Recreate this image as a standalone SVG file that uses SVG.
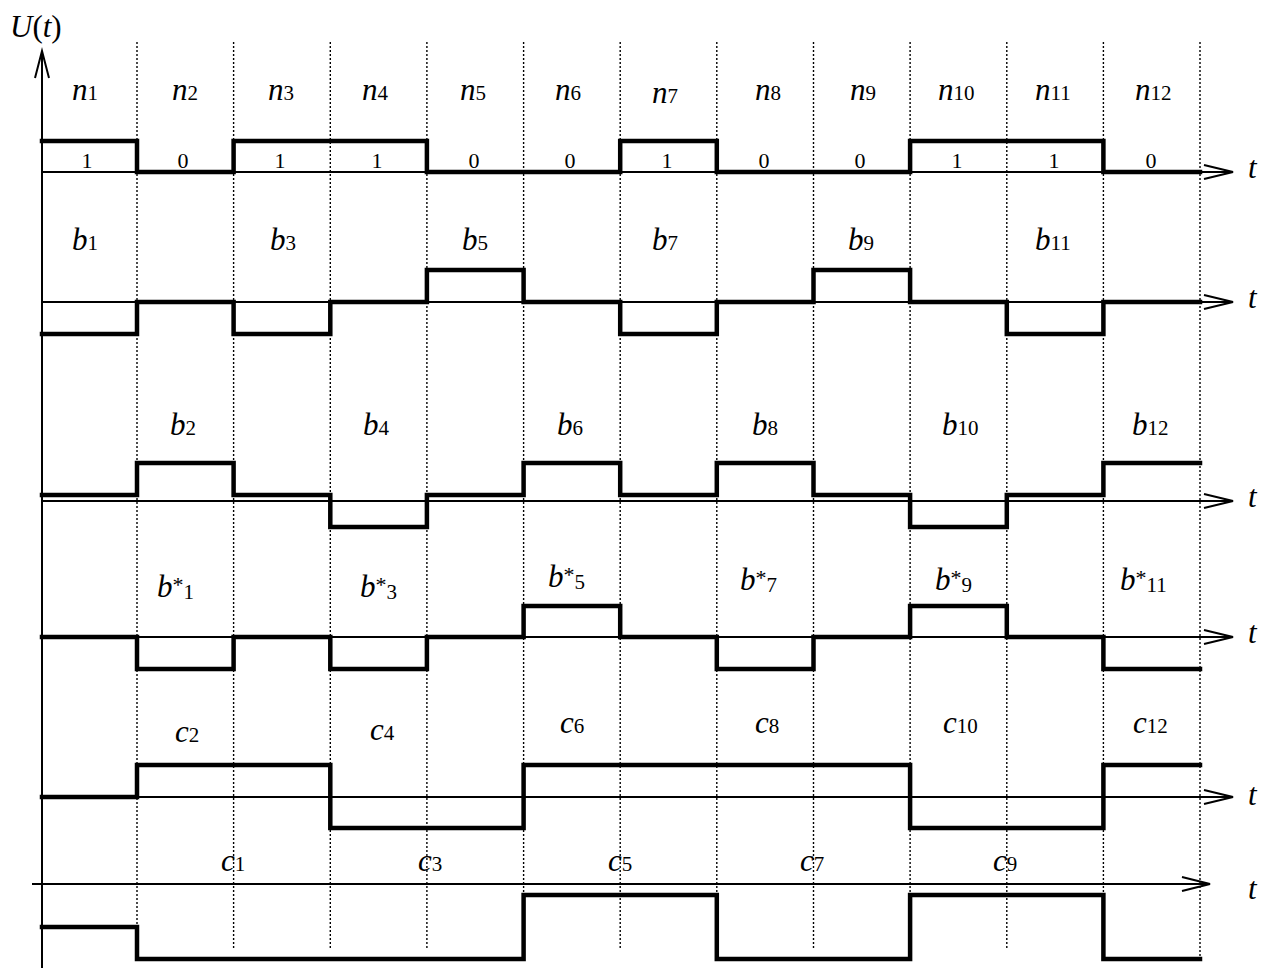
<svg xmlns="http://www.w3.org/2000/svg" width="1261" height="968" viewBox="0 0 1261 968">
<style>
  .grid { stroke:#000; stroke-width:1.4; stroke-dasharray:2 2; fill:none; }
  .axis { stroke:#000; stroke-width:2; fill:none; }
  .sig { stroke:#000; stroke-width:4.5; fill:none; stroke-linejoin:miter; stroke-linecap:square; }
  .lab { font-family:"Liberation Serif","Times New Roman",serif; font-style:italic; font-size:31px; fill:#000; }
  .sub { font-style:normal; font-size:21px; }
  .star { font-style:normal; font-size:22px; }
  .bit { font-family:"Liberation Serif","Times New Roman",serif; font-size:22px; fill:#000; text-anchor:middle; }
  .up { font-style:normal; }
</style>
<rect width="1261" height="968" fill="#fff"/>

<g id="grid">
  <line class="grid" x1="137" y1="42" x2="137" y2="950"/>
  <line class="grid" x1="233.6" y1="42" x2="233.6" y2="950"/>
  <line class="grid" x1="330.3" y1="42" x2="330.3" y2="950"/>
  <line class="grid" x1="426.9" y1="42" x2="426.9" y2="950"/>
  <line class="grid" x1="523.6" y1="42" x2="523.6" y2="950"/>
  <line class="grid" x1="620.2" y1="42" x2="620.2" y2="950"/>
  <line class="grid" x1="716.8" y1="42" x2="716.8" y2="950"/>
  <line class="grid" x1="813.5" y1="42" x2="813.5" y2="950"/>
  <line class="grid" x1="910.1" y1="42" x2="910.1" y2="950"/>
  <line class="grid" x1="1006.8" y1="42" x2="1006.8" y2="950"/>
  <line class="grid" x1="1103.4" y1="42" x2="1103.4" y2="950"/>
  <line class="grid" x1="1200" y1="42" x2="1200" y2="960"/>
</g>

<g id="axes">
  <line class="axis" x1="42" y1="968" x2="42" y2="51"/>
  <polyline class="axis" points="35,78 42,51 49,78"/>
  <line class="axis" x1="42" y1="172" x2="1232" y2="172"/>
  <polyline class="axis" points="1204,165 1233,172 1204,179"/>
  <line class="axis" x1="42" y1="302" x2="1232" y2="302"/>
  <polyline class="axis" points="1204,295 1233,302 1204,309"/>
  <line class="axis" x1="42" y1="501" x2="1232" y2="501"/>
  <polyline class="axis" points="1204,494 1233,501 1204,508"/>
  <line class="axis" x1="42" y1="637" x2="1232" y2="637"/>
  <polyline class="axis" points="1204,630 1233,637 1204,644"/>
  <line class="axis" x1="42" y1="797" x2="1232" y2="797"/>
  <polyline class="axis" points="1204,790 1233,797 1204,804"/>
  <line class="axis" x1="32" y1="884" x2="1209" y2="884"/>
  <polyline class="axis" points="1182,877 1210,884 1182,891"/>
</g>

<g id="signals">
  <path id="sig-n" class="sig" d="M42 141 H137 V172 H233.6 V141 H426.9 V172 H620.2 V141 H716.8 V172 H910.1 V141 H1103.4 V172 H1200"/>
  <path id="sig-b-odd" class="sig" d="M42 334 H137 V302 H233.6 V334 H330.3 V302 H426.9 V270 H523.6 V302 H620.2 V334 H716.8 V302 H813.5 V270 H910.1 V302 H1006.8 V334 H1103.4 V302 H1200"/>
  <path id="sig-b-even" class="sig" d="M42 495 H137 V463 H233.6 V495 H330.3 V527 H426.9 V495 H523.6 V463 H620.2 V495 H716.8 V463 H813.5 V495 H910.1 V527 H1006.8 V495 H1103.4 V463 H1200"/>
  <path id="sig-bstar" class="sig" d="M42 637 H137 V669 H233.6 V637 H330.3 V669 H426.9 V637 H523.6 V606 H620.2 V637 H716.8 V669 H813.5 V637 H910.1 V606 H1006.8 V637 H1103.4 V669 H1200"/>
  <path id="sig-c-even" class="sig" d="M42 797 H137 V765 H330.3 V828 H523.6 V765 H910.1 V828 H1103.4 V765 H1200"/>
  <path id="sig-c-odd" class="sig" d="M42 927 H137 V959 H523.6 V895 H716.8 V959 H910.1 V895 H1103.4 V959 H1200"/>
</g>

<g id="axis-labels">
  <text class="lab" x="10" y="37">U<tspan class="up">(</tspan>t<tspan class="up">)</tspan></text>
  <text class="lab" x="1248" y="178">t</text>
  <text class="lab" x="1248" y="308">t</text>
  <text class="lab" x="1248" y="507">t</text>
  <text class="lab" x="1248" y="643">t</text>
  <text class="lab" x="1248" y="805">t</text>
  <text class="lab" x="1248" y="899">t</text>
</g>

<g id="row-n">
  <text class="lab" x="72" y="100">n<tspan class="sub">1</tspan></text>
  <text class="lab" x="172" y="100">n<tspan class="sub">2</tspan></text>
  <text class="lab" x="268" y="100">n<tspan class="sub">3</tspan></text>
  <text class="lab" x="362" y="100">n<tspan class="sub">4</tspan></text>
  <text class="lab" x="460" y="100">n<tspan class="sub">5</tspan></text>
  <text class="lab" x="555" y="100">n<tspan class="sub">6</tspan></text>
  <text class="lab" x="652" y="103">n<tspan class="sub">7</tspan></text>
  <text class="lab" x="755" y="100">n<tspan class="sub">8</tspan></text>
  <text class="lab" x="850" y="100">n<tspan class="sub">9</tspan></text>
  <text class="lab" x="938" y="100">n<tspan class="sub">10</tspan></text>
  <text class="lab" x="1035" y="100">n<tspan class="sub">11</tspan></text>
  <text class="lab" x="1135" y="100">n<tspan class="sub">12</tspan></text>
  <text class="bit" x="87" y="168">1</text>
  <text class="bit" x="183" y="168">0</text>
  <text class="bit" x="280" y="168">1</text>
  <text class="bit" x="377" y="168">1</text>
  <text class="bit" x="474" y="168">0</text>
  <text class="bit" x="570" y="168">0</text>
  <text class="bit" x="667" y="168">1</text>
  <text class="bit" x="764" y="168">0</text>
  <text class="bit" x="860" y="168">0</text>
  <text class="bit" x="957" y="168">1</text>
  <text class="bit" x="1054" y="168">1</text>
  <text class="bit" x="1151" y="168">0</text>
</g>

<g id="row-b-odd">
  <text class="lab" x="72" y="250">b<tspan class="sub">1</tspan></text>
  <text class="lab" x="270" y="250">b<tspan class="sub">3</tspan></text>
  <text class="lab" x="462" y="250">b<tspan class="sub">5</tspan></text>
  <text class="lab" x="652" y="250">b<tspan class="sub">7</tspan></text>
  <text class="lab" x="848" y="250">b<tspan class="sub">9</tspan></text>
  <text class="lab" x="1035" y="250">b<tspan class="sub">11</tspan></text>
</g>

<g id="row-b-even">
  <text class="lab" x="170" y="435">b<tspan class="sub">2</tspan></text>
  <text class="lab" x="363" y="435">b<tspan class="sub">4</tspan></text>
  <text class="lab" x="557" y="435">b<tspan class="sub">6</tspan></text>
  <text class="lab" x="752" y="435">b<tspan class="sub">8</tspan></text>
  <text class="lab" x="942" y="435">b<tspan class="sub">10</tspan></text>
  <text class="lab" x="1132" y="435">b<tspan class="sub">12</tspan></text>
</g>

<g id="row-bstar">
  <text class="lab" x="157" y="597">b<tspan class="star" dy="-5">*</tspan><tspan class="sub" dy="7">1</tspan></text>
  <text class="lab" x="360" y="597">b<tspan class="star" dy="-5">*</tspan><tspan class="sub" dy="7">3</tspan></text>
  <text class="lab" x="548" y="587">b<tspan class="star" dy="-5">*</tspan><tspan class="sub" dy="7">5</tspan></text>
  <text class="lab" x="740" y="590">b<tspan class="star" dy="-5">*</tspan><tspan class="sub" dy="7">7</tspan></text>
  <text class="lab" x="935" y="590">b<tspan class="star" dy="-5">*</tspan><tspan class="sub" dy="7">9</tspan></text>
  <text class="lab" x="1120" y="590">b<tspan class="star" dy="-5">*</tspan><tspan class="sub" dy="7">11</tspan></text>
</g>

<g id="row-c-even">
  <text class="lab" x="175" y="742">c<tspan class="sub">2</tspan></text>
  <text class="lab" x="370" y="740">c<tspan class="sub">4</tspan></text>
  <text class="lab" x="560" y="733">c<tspan class="sub">6</tspan></text>
  <text class="lab" x="755" y="733">c<tspan class="sub">8</tspan></text>
  <text class="lab" x="943" y="733">c<tspan class="sub">10</tspan></text>
  <text class="lab" x="1133" y="733">c<tspan class="sub">12</tspan></text>
</g>

<g id="row-c-odd">
  <text class="lab" x="221" y="871">c<tspan class="sub">1</tspan></text>
  <text class="lab" x="418" y="871">c<tspan class="sub">3</tspan></text>
  <text class="lab" x="608" y="871">c<tspan class="sub">5</tspan></text>
  <text class="lab" x="800" y="871">c<tspan class="sub">7</tspan></text>
  <text class="lab" x="993" y="871">c<tspan class="sub">9</tspan></text>
</g>
</svg>
